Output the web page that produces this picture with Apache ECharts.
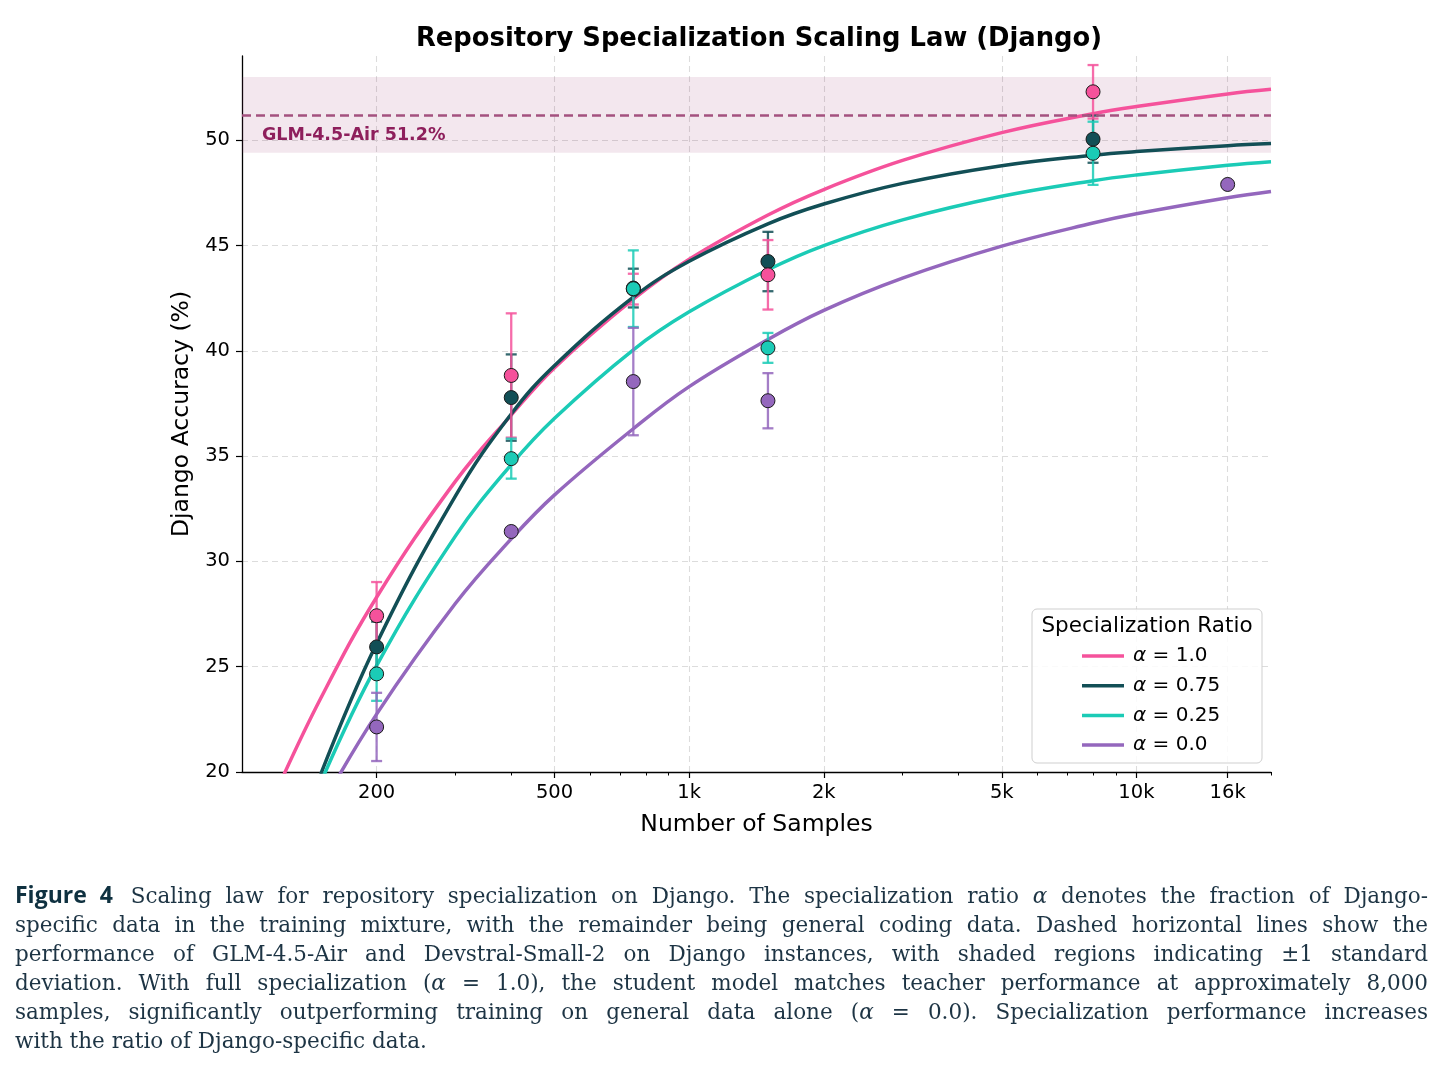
<!DOCTYPE html>
<html>
<head>
<meta charset="utf-8">
<script src="https://cdn.jsdelivr.net/npm/echarts@6/dist/echarts.min.js"></script>
<style>
html,body{margin:0;padding:0;background:#fff;}
#chart{position:absolute;left:0;top:0;width:1448px;height:1090px;}
#cap{position:absolute;left:15px;top:880px;width:1413px;font-family:'DejaVu Serif','Liberation Serif',serif;font-size:21.5px;line-height:29px;color:#1d3444;}
#cap div{text-align:justify;text-align-last:justify;white-space:nowrap;}
#cap div.last{text-align-last:left;}
#cap .fig{font-family:'Open Sans','Lato',sans-serif;font-weight:700;font-size:23px;color:#0f3140;margin-right:4px;}
</style>
</head>
<body>
<div id="chart"></div>
<div id="cap">
<div><span class="fig">Figure 4</span> Scaling law for repository specialization on Django. The specialization ratio <i>α</i> denotes the fraction of Django-</div>
<div>specific data in the training mixture, with the remainder being general coding data. Dashed horizontal lines show the</div>
<div>performance of GLM-4.5-Air and Devstral-Small-2 on Django instances, with shaded regions indicating ±1 standard</div>
<div>deviation. With full specialization (<i>α</i> = 1.0), the student model matches teacher performance at approximately 8,000</div>
<div>samples, significantly outperforming training on general data alone (<i>α</i> = 0.0). Specialization performance increases</div>
<div class="last">with the ratio of Django-specific data.</div>
</div>
<script>
// ---------- data ----------
const seriesNames = ['α = 1.0', 'α = 0.75', 'α = 0.25', 'α = 0.0'];
const seriesColors = ['#F5529B', '#124F56', '#1BCBB6', '#9467BD'];

// fitted curves
const curveN   = [120, 150, 200, 300, 400, 500, 750, 1000, 1500, 2000, 3000, 5000, 8000, 10000, 16000, 20000];
const fitA100  = [19.2, 23.5, 28.3, 33.8, 36.95, 39.2, 42.45, 44.35, 46.45, 47.66, 49.04, 50.36, 51.26, 51.6, 52.2, 52.42];
const fitA075  = [null, 19.9, 26.1, 33.1, 37.0, 39.3, 42.55, 44.25, 46.03, 46.97, 47.95, 48.79, 49.29, 49.46, 49.74, 49.84];
const fitA025  = [null, 19.5, 25.05, 31.2, 34.6, 36.8, 40.05, 41.85, 43.85, 45.0, 46.22, 47.34, 48.08, 48.35, 48.81, 48.98];
const fitA000  = [null, 18.3, 22.75, 28.0, 31.07, 33.16, 36.3, 38.3, 40.54, 41.92, 43.45, 44.97, 46.07, 46.51, 47.27, 47.57];

// measured points with ±1 std
const ptN      = [200, 400, 750, 1500, 8000];
const ptA100   = [27.42, 38.83, 42.93, 43.61, 52.3];
const errA100  = [1.6, 2.95, 0.73, 1.65, 1.27];
const ptA075   = [25.94, 37.78, 42.98, 44.24, 50.05];
const errA075  = [1.2, 2.05, 0.92, 1.41, 1.12];
const ptA025   = [24.66, 34.88, 42.95, 40.14, 49.38];
const errA025  = [1.28, 0.95, 1.82, 0.71, 1.5];
const ptN000   = [200, 400, 750, 1500, 16000];
const ptA000   = [22.14, 31.42, 38.54, 37.63, 47.9];
const errA000  = [1.62, 0, 2.55, 1.31, 0];

// reference model
const refName = 'GLM-4.5-Air';
const refMean = 51.2;
const refStd = 1.8;

// axes
const xMajorTicks = [200, 500, 1000, 2000, 5000, 10000, 16000];
const xMajorLabels = ['200', '500', '1k', '2k', '5k', '10k', '16k'];
const xMinorTicks = [300, 400, 600, 700, 800, 900, 3000, 4000, 6000, 7000, 8000, 9000, 20000];
const yTicks = [20, 25, 30, 35, 40, 45, 50];

// ---------- chart ----------
const FONT = 'DejaVu Sans';
const chart = echarts.init(document.getElementById('chart'), null, {renderer: 'canvas'});

const fits = [fitA100, fitA075, fitA025, fitA000];
const pts = [
  {n: ptN, v: ptA100, e: errA100},
  {n: ptN, v: ptA075, e: errA075},
  {n: ptN, v: ptA025, e: errA025},
  {n: ptN000, v: ptA000, e: errA000}
];

const series = [];
// reference band + line
series.push({
  type: 'line', name: 'ref', data: [], silent: true, z: 1,
  markArea: {
    silent: true,
    itemStyle: {color: 'rgba(142,39,102,0.11)'},
    data: [[{yAxis: refMean - refStd}, {yAxis: refMean + refStd}]]
  },
  markLine: {
    silent: true, symbol: 'none',
    lineStyle: {color: '#A4517F', type: [9, 5], width: 2.5},
    label: {
      show: true, position: 'insideStartBottom', formatter: refName + ' ' + refMean.toFixed(1) + '%',
      color: '#8E1F5C', fontWeight: 'bold', fontSize: 17.5, fontFamily: FONT, distance: [20, 11]
    },
    data: [{yAxis: refMean}]
  }
});

fits.forEach((f, i) => {
  series.push({
    type: 'line', name: seriesNames[i], z: 2,
    data: curveN.map((n, k) => [n, f[k]]),
    smooth: 0.4, showSymbol: false, symbol: 'none',
    lineStyle: {color: seriesColors[i], width: 3.5},
    itemStyle: {color: seriesColors[i]},
    connectNulls: false, silent: true
  });
});

// error bars
const drawOrder = [1, 0, 2, 3];
drawOrder.forEach(i => {
  const p = pts[i];
  const col = seriesColors[i];
  series.push({
    type: 'custom', name: 'err' + i, z: 3, silent: true,
    data: p.n.map((n, k) => [n, p.v[k], p.e[k]]),
    encode: {x: 0, y: 1},
    renderItem: function (params, api) {
      const x = api.value(0), y = api.value(1), e = api.value(2);
      if (!e) return null;
      const t = api.coord([x, y + e]);
      const b = api.coord([x, y - e]);
      const cw = 5.5;
      const st = {stroke: col, lineWidth: 2.3, opacity: 0.85};
      return {
        type: 'group', children: [
          {type: 'line', shape: {x1: t[0], y1: t[1], x2: b[0], y2: b[1]}, style: st},
          {type: 'line', shape: {x1: t[0] - cw, y1: t[1], x2: t[0] + cw, y2: t[1]}, style: st},
          {type: 'line', shape: {x1: b[0] - cw, y1: b[1], x2: b[0] + cw, y2: b[1]}, style: st}
        ]
      };
    }
  });
});
drawOrder.forEach(i => {
  const p = pts[i];
  series.push({
    type: 'scatter', name: 'pt' + i, z: 4, silent: true,
    data: p.n.map((n, k) => [n, p.v[k]]),
    symbol: 'circle', symbolSize: 14,
    itemStyle: {color: seriesColors[i], borderColor: '#1a1a1a', borderWidth: 1, opacity: 1}
  });
});

const option = {
  animation: false,
  backgroundColor: '#fff',
  title: {
    text: 'Repository Specialization Scaling Law (Django)',
    left: 754, textAlign: 'center', top: 21,
    textStyle: {fontFamily: FONT, fontWeight: 'bold', fontSize: 25.8, color: '#000'}
  },
  grid: {left: 242, right: 177, top: 56, bottom: 318, containLabel: false},
  legend: {
    data: seriesNames, orient: 'vertical', left: 1077, top: 641, z: 6,
    itemWidth: 42, itemHeight: 3.5, icon: 'rect', itemGap: 9.7,
    selectedMode: false,
    formatter: function (name) { return '{i|α}' + name.slice(1); },
    textStyle: {
      fontFamily: FONT, fontSize: 20, lineHeight: 20, color: '#000', padding: [0, 0, 0, 4],
      rich: {i: {fontFamily: FONT, fontStyle: 'italic', fontSize: 20, color: '#000'}}
    }
  },
  graphic: [
    {type: 'rect', z: 5, shape: {x: 1032, y: 609, width: 230, height: 154, r: 5},
     style: {fill: 'rgba(255,255,255,0.85)', stroke: '#cfcfcf', lineWidth: 1}},
    {type: 'text', z: 6, x: 1147, y: 626,
     style: {text: 'Specialization Ratio', fontFamily: FONT, fontSize: 21.5, fill: '#000', align: 'center', verticalAlign: 'middle'}}
  ],
  xAxis: [
    {
      type: 'log', logBase: 10, min: 100, max: 20000,
      name: 'Number of Samples', nameLocation: 'middle', nameGap: 41,
      nameTextStyle: {fontFamily: FONT, fontSize: 23.5, color: '#000'},
      axisLine: {show: true, onZero: false, lineStyle: {color: '#000', width: 1.3}},
      axisTick: {show: true, customValues: xMajorTicks, length: 6, lineStyle: {color: '#000', width: 1.2}},
      axisLabel: {
        show: true, customValues: xMajorTicks, margin: 11, color: '#000', fontFamily: FONT, fontSize: 19.5,
        formatter: function (v) { const k = xMajorTicks.indexOf(Math.round(v)); return k >= 0 ? xMajorLabels[k] : ''; }
      },
      splitLine: {show: true, lineStyle: {color: '#dcdcdc', type: [6, 4], width: 1.1}},
      minorTick: {show: false}
    },
    {
      type: 'log', logBase: 10, min: 100, max: 20000, position: 'bottom',
      axisLine: {show: false},
      axisTick: {show: true, customValues: xMinorTicks, length: 3.5, lineStyle: {color: '#000', width: 1}},
      axisLabel: {show: false},
      splitLine: {show: false}
    }
  ],
  yAxis: {
    type: 'value', min: 20, max: 54, interval: 5,
    name: 'Django Accuracy (%)', nameLocation: 'middle', nameGap: 48,
    nameTextStyle: {fontFamily: FONT, fontSize: 23.5, color: '#000'},
    axisLine: {show: true, onZero: false, lineStyle: {color: '#000', width: 1.3}},
    axisTick: {show: true, customValues: yTicks, length: 6, lineStyle: {color: '#000', width: 1.2}},
    axisLabel: {customValues: yTicks, margin: 12, color: '#000', fontFamily: FONT, fontSize: 19.5},
    splitLine: {show: true, lineStyle: {color: '#dcdcdc', type: [6, 4], width: 1.1}}
  },
  series: series
};
chart.setOption(option);
</script>
</body>
</html>
